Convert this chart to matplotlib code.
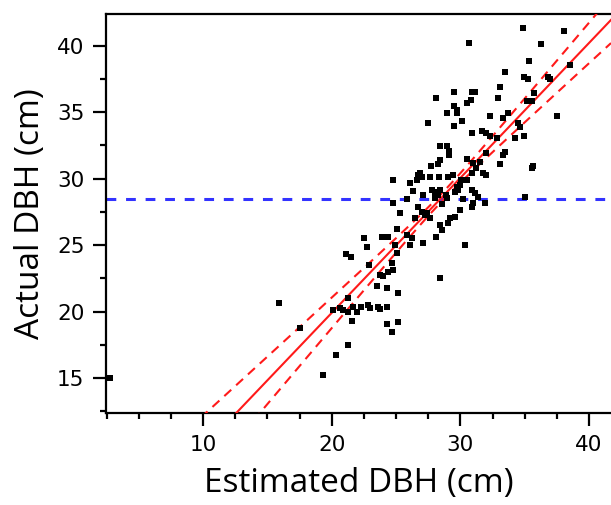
import numpy as np
import matplotlib
matplotlib.use("Agg")
import matplotlib.pyplot as plt
from matplotlib.ticker import MultipleLocator

# ---- data ----
estimated_dbh = [
    34.86, 38.05, 30.67, 36.26, 35.29, 38.48, 33.50, 34.94, 35.28, 36.83, 36.96, 33.08,
    29.50, 30.90, 31.17, 28.10, 32.90, 30.82, 30.51, 35.72, 35.60, 35.17, 29.50, 29.71,
    29.76, 28.92, 33.68, 32.30, 33.31, 37.48, 30.10, 27.51, 29.50, 34.50, 34.63, 30.88,
    31.66, 31.99, 32.30, 34.94, 34.24, 32.84,
    28.41, 28.96, 29.11, 29.15, 33.47, 33.33, 31.99, 30.49, 28.41, 28.28, 27.69, 33.08,
    35.66, 35.54, 31.52, 31.78, 31.99, 30.88, 30.98, 31.21, 26.86, 26.73, 26.99, 26.60,
    27.64, 28.34, 29.06, 29.43, 30.05, 30.49, 24.74, 26.08, 26.34, 27.77, 28.03, 28.41,
    28.28, 29.71, 29.97, 29.84, 29.58, 30.88, 31.13, 28.88, 28.94, 28.03, 27.12, 25.83,
    24.76, 25.31, 26.73, 26.99, 27.25, 27.40, 27.64, 28.55, 30.23, 30.88, 31.91, 35.02,
    31.39, 31.00, 29.97, 29.19, 29.58, 29.06, 28.41, 28.55, 26.47,
    22.51, 23.89, 24.34, 25.83, 26.22, 24.92, 28.10, 30.36, 27.12, 26.08, 25.07, 22.72,
    21.09, 21.50, 25.05, 22.90, 24.66, 24.79, 24.40, 23.75, 24.01, 23.50, 24.32, 25.17,
    15.94, 21.29, 20.10, 20.64, 20.90, 21.23, 21.62, 21.94, 22.28, 22.84, 22.98, 23.62,
    23.75, 24.32, 21.54, 17.54, 24.32, 24.71, 25.17, 21.29, 20.30, 19.35, 2.77, 28.41,
]
actual_dbh = [
    41.32, 41.09, 40.19, 40.15, 38.80, 38.57, 38.03, 37.65, 37.48, 37.65, 37.46, 36.86,
    36.48, 36.48, 36.48, 36.08, 36.08, 35.88, 35.71, 36.43, 35.83, 35.86, 35.49, 35.15,
    34.90, 34.95, 34.92, 34.72, 34.53, 34.72, 34.35, 34.15, 33.95, 34.21, 33.91, 33.40,
    33.61, 33.42, 33.20, 33.20, 33.05, 33.02,
    32.44, 32.44, 32.09, 31.77, 32.02, 31.80, 31.89, 31.44, 31.39, 31.07, 30.94, 31.07,
    30.96, 30.81, 31.22, 30.39, 30.23, 30.39, 31.17, 30.79, 30.44, 30.26, 30.14, 29.89,
    30.14, 30.09, 30.09, 30.26, 29.89, 29.89, 29.89, 29.68, 29.08, 29.14, 29.01, 29.14,
    28.76, 29.38, 29.51, 29.14, 29.01, 29.14, 28.89, 28.76, 28.51, 28.51, 28.76, 28.44,
    28.16, 27.38, 27.88, 27.50, 27.26, 27.41, 27.01, 28.08, 28.44, 27.88, 28.14, 28.59,
    28.63, 28.14, 27.63, 27.01, 27.13, 26.63, 26.50, 26.13, 27.01,
    25.50, 25.64, 25.64, 25.75, 25.50, 25.00, 25.58, 25.00, 25.13, 25.00, 26.20, 24.87,
    24.32, 24.10, 24.38, 23.50, 23.62, 23.12, 22.99, 22.74, 22.67, 21.92, 21.74, 21.37,
    20.62, 20.99, 20.09, 20.24, 20.11, 19.98, 20.34, 19.98, 20.36, 20.49, 20.24, 20.36,
    20.17, 20.36, 19.25, 18.74, 19.06, 18.48, 19.23, 17.48, 16.73, 15.23, 15.02, 22.52,
]

mean_actual = 28.45          # blue dashed reference line
fit_slope = 1.015            # red fitted line
fit_intercept = -0.40
ci_center = 28.5             # confidence band parameters
ci_min_halfwidth = 0.30
ci_growth = 0.13

x_ticks_major = [10, 20, 30, 40]
y_ticks_major = [15, 20, 25, 30, 35, 40]
xlim = (2.46, 41.7)
ylim = (12.37, 42.37)

# ---- figure ----
W, H = 611, 505
fig = plt.figure(figsize=(W / 100, H / 100), dpi=100)
fig.patch.set_facecolor("white")
ax = fig.add_axes([106 / W, 1 - 413 / H, 1 - 106 / W, (413 - 14) / H])

ax.set_xlim(*xlim)
ax.set_ylim(*ylim)

xs = np.linspace(xlim[0], xlim[1], 300)
fit = fit_slope * xs + fit_intercept
hw = np.sqrt(ci_min_halfwidth ** 2 + (ci_growth * (xs - ci_center)) ** 2)

ax.axhline(mean_actual, color="#3333ff", lw=2.2, ls=(0, (3.2, 3.2)), zorder=2)
ax.plot(xs, fit, color="#ff1a1a", lw=1.5, zorder=3)
ax.plot(xs, fit + hw, color="#ff1a1a", lw=1.5, ls=(0, (4.5, 3.2)), zorder=3)
ax.plot(xs, fit - hw, color="#ff1a1a", lw=1.5, ls=(0, (4.5, 3.2)), zorder=3)

ax.scatter(estimated_dbh, actual_dbh, marker="s", s=16, color="black",
           linewidths=0, zorder=4, clip_on=False)

ax.spines["right"].set_visible(False)
for s in ("left", "bottom", "top"):
    ax.spines[s].set_linewidth(1.6)

ax.set_xticks(x_ticks_major)
ax.set_yticks(y_ticks_major)
ax.xaxis.set_minor_locator(MultipleLocator(2.5))
ax.yaxis.set_minor_locator(MultipleLocator(2.5))
ax.tick_params(which="major", direction="out", length=9.5, width=1.6,
               labelsize=15.5, pad=6)
ax.tick_params(which="minor", direction="out", length=4, width=1.6)
ax.tick_params(axis="x", which="both", top=False)

ax.set_xlabel("Estimated DBH (cm)", fontsize=24, family="Open Sans", labelpad=9)
ax.set_ylabel("Actual DBH (cm)", fontsize=24, family="Open Sans", labelpad=7)

fig.savefig("out.png", dpi=100)
